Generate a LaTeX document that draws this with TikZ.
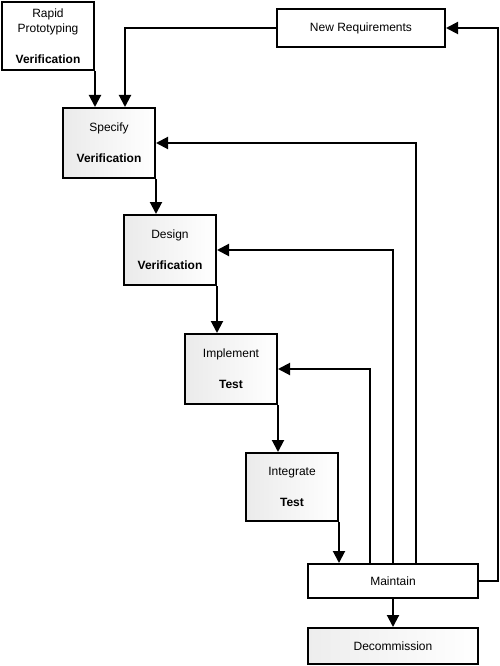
\documentclass[tikz,border=0pt]{standalone}
\usepackage{fontspec}
\setmainfont{Liberation Sans}
\usetikzlibrary{arrows.meta}
\begin{document}
\begin{tikzpicture}[x=1pt,y=-1pt,
  box/.style={draw=black,line width=2pt,inner sep=0pt,align=center,
    font=\fontsize{12}{15.5}\selectfont},
  proc/.style={box,minimum width=92pt,minimum height=70pt,left color=black!8,right color=white},
  wide/.style={box,minimum width=170pt},
  arr/.style={line width=2pt,-{Triangle[length=12pt,width=12pt]}}]
\useasboundingbox (0,0) rectangle (500,666);
\node[box,minimum width=92pt,minimum height=68pt,fill=white] (rapid) at (48,36)
  {Rapid\\Prototyping\\[15.5pt]\textbf{Verification}};
\node[box,minimum width=168pt,minimum height=38pt,fill=white] (newreq) at (361,28) {New Requirements};
\node[proc] (specify) at (109,143) {Specify\\[15.5pt]\textbf{Verification}};
\node[proc] (design) at (170,250) {Design\\[15.5pt]\textbf{Verification}};
\node[proc] (implement) at (231,369) {Implement\\[15.5pt]\textbf{Test}};
\node[proc,minimum height=68pt] (integrate) at (292,487) {Integrate\\[15.5pt]\textbf{Test}};
\node[wide,minimum height=34pt,fill=white] (maintain) at (393,581) {Maintain};
\node[wide,minimum height=36pt,left color=black!7,right color=white] (decom) at (393,646) {Decommission};

\draw[arr] (rapid.south east) -- (rapid.south east |- specify.north);
\draw[arr] (newreq.west) -| ([xshift=16pt]specify.north);
\draw[arr] (specify.south east) -- (specify.south east |- design.north);
\draw[arr] (design.south east) -- (design.south east |- implement.north);
\draw[arr] (implement.south east) -- (implement.south east |- integrate.north);
\draw[arr] (integrate.south east) -- (integrate.south east |- maintain.north);
\draw[arr] (maintain.south) -- (decom.north);
\draw[arr] ([xshift=23pt]maintain.north) |- (specify.east);
\draw[arr] (maintain.north) |- (design.east);
\draw[arr] ([xshift=-23pt]maintain.north) |- (implement.east);
\coordinate (rt) at ([xshift=19pt]maintain.east);
\draw[arr] (maintain.east) -- (rt) |- (newreq.east);
\end{tikzpicture}
\end{document}
